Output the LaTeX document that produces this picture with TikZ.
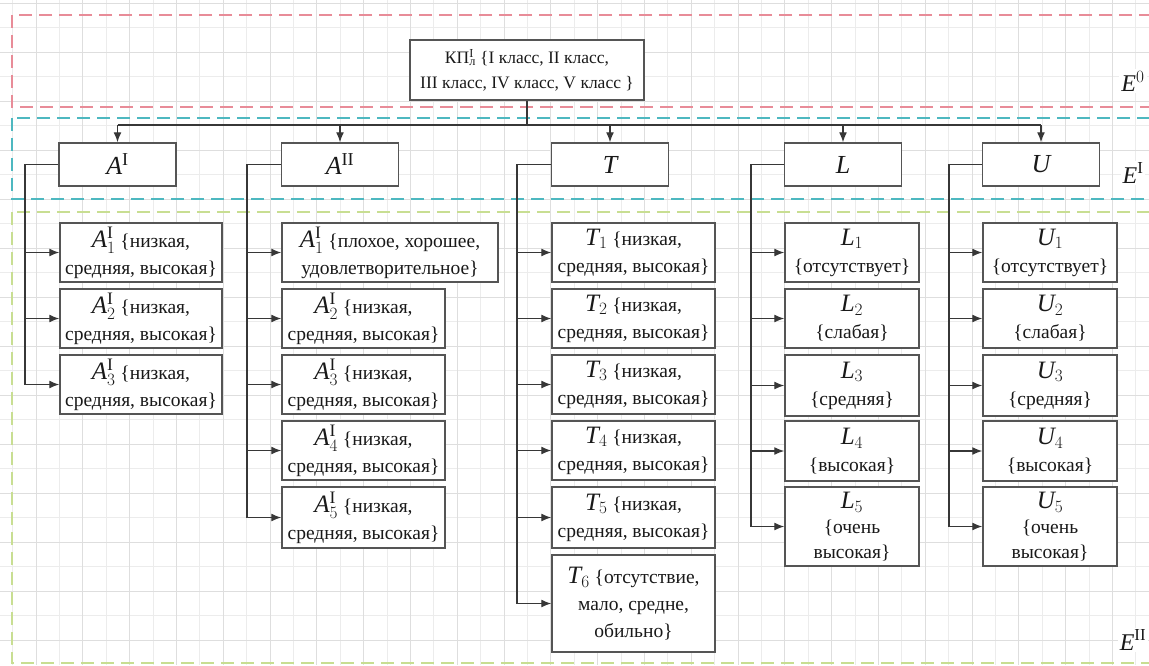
\documentclass[tikz,border=0pt]{standalone}
\usepackage{fontspec}
\setmainfont{Liberation Serif}
\usetikzlibrary{arrows.meta}
\definecolor{gridmin}{RGB}{236,236,236}
\definecolor{gridmaj}{RGB}{222,222,222}
\definecolor{pinkd}{RGB}{232,140,152}
\definecolor{cyand}{RGB}{78,184,192}
\definecolor{greend}{RGB}{200,222,146}
\definecolor{boxc}{RGB}{85,85,85}
\definecolor{linec}{RGB}{55,55,55}
\definecolor{txt}{RGB}{25,25,25}
\newcommand{\mlet}[1]{{\fontsize{26}{26}\selectfont$#1$}}
\newcommand{\sm}[1]{{\fontsize{25}{25}\selectfont$#1$}}
\begin{document}
\begin{tikzpicture}[x=1pt,y=-1pt,
  box/.style={draw=boxc,line width=1.5pt,fill=white,inner sep=0pt,align=center,text=txt},
  topbox/.style={box,minimum width=117pt,minimum height=43pt},
  leaf/.style={box,font=\fontsize{19.5}{27}\selectfont},
  conn/.style={draw=linec,line width=1.3pt},
  arr/.style={conn,-{Latex[length=10pt,width=8pt]}},
  zone/.style={line width=2pt,dash pattern=on 13pt off 7pt},
  elabel/.style={fill=white,inner sep=2pt,text=txt,font=\fontsize{24}{24}\selectfont}]
\fill[white] (0,0) rectangle (1149,665);
\useasboundingbox (0,0) rectangle (1149,665);
% grid
\foreach \j in {0,...,24} \draw[gridmin,line width=1pt] ({12.6+46.8*\j},0) -- ({12.6+46.8*\j},665);
\foreach \j in {0,...,12} \draw[gridmin,line width=1pt] (0,{27.5+49*\j}) -- (1149,{27.5+49*\j});
\foreach \j in {0,...,23} \draw[gridmaj,line width=1pt] ({36+46.8*\j},0) -- ({36+46.8*\j},665);
\foreach \j in {0,...,13} \draw[gridmaj,line width=1pt] (0,{3+49*\j}) -- (1149,{3+49*\j});
% zones
\draw[zone,pinkd] (12,15) rectangle (1170,107);
\draw[zone,cyand] (12,118) rectangle (1170,199);
\draw[zone,greend] (12,212) rectangle (1170,663);
\node[elabel] (E0) at (1133,81) {$\mathit{E}^{0}$};
\node[elabel] (E1) at (1133,173) {$\mathit{E}^{\mathrm{I}}$};
\node[elabel] (E2) at (1133,640) {$\mathit{E}^{\mathrm{II}}$};
% root
\node[box,minimum width=234pt,minimum height=60pt,font=\fontsize{17.5}{25}\selectfont] (root) at (527,70)
  {КП\rlap{\textsuperscript{I}}\textsubscript{л} \{I класс, II класс,\\ III класс, IV класс, V класс \}};
% level 1
\node[topbox] (AI) at (117.5,164.5) {\mlet{\mathit{A}^{\mathrm{I}}}};
\node[topbox] (AII) at (340,164.5) {\mlet{\mathit{A}^{\mathrm{II}}}};
\node[topbox] (T) at (610,164.5) {\mlet{\mathit{T}}};
\node[topbox] (L) at (843,164.5) {\mlet{\mathit{L}}};
\node[topbox] (U) at (1041,164.5) {\mlet{\mathit{U}}};
% level 2: A^I
\node[leaf,minimum width=162pt,minimum height=59pt] (a1) at (141,252.5) {\sm{\mathit{A}^{\mathrm{I}}_{1}} \{низкая,\\средняя, высокая\}};
\node[leaf,minimum width=162pt,minimum height=59pt] (a2) at (141,318.5) {\sm{\mathit{A}^{\mathrm{I}}_{2}} \{низкая,\\средняя, высокая\}};
\node[leaf,minimum width=162pt,minimum height=59pt] (a3) at (141,384.5) {\sm{\mathit{A}^{\mathrm{I}}_{3}} \{низкая,\\средняя, высокая\}};
% A^II
\node[leaf,minimum width=216pt,minimum height=59pt] (b1) at (390,252.5) {\sm{\mathit{A}^{\mathrm{I}}_{1}} \{плохое, хорошее,\\удовлетворительное\}};
\node[leaf,minimum width=163pt,minimum height=59pt] (b2) at (363.5,318.5) {\sm{\mathit{A}^{\mathrm{I}}_{2}} \{низкая,\\средняя, высокая\}};
\node[leaf,minimum width=163pt,minimum height=59pt] (b3) at (363.5,384.5) {\sm{\mathit{A}^{\mathrm{I}}_{3}} \{низкая,\\средняя, высокая\}};
\node[leaf,minimum width=163pt,minimum height=59pt] (b4) at (363.5,450.5) {\sm{\mathit{A}^{\mathrm{I}}_{4}} \{низкая,\\средняя, высокая\}};
\node[leaf,minimum width=163pt,minimum height=61pt] (b5) at (363.5,517.5) {\sm{\mathit{A}^{\mathrm{I}}_{5}} \{низкая,\\средняя, высокая\}};
% T
\node[leaf,minimum width=163pt,minimum height=59pt] (t1) at (633.5,252.5) {\sm{\mathit{T}_{1}}\ \{низкая,\\средняя, высокая\}};
\node[leaf,minimum width=163pt,minimum height=59pt] (t2) at (633.5,318.5) {\sm{\mathit{T}_{2}}\ \{низкая,\\средняя, высокая\}};
\node[leaf,minimum width=163pt,minimum height=59pt] (t3) at (633.5,384.5) {\sm{\mathit{T}_{3}}\ \{низкая,\\средняя, высокая\}};
\node[leaf,minimum width=163pt,minimum height=59pt] (t4) at (633.5,450.5) {\sm{\mathit{T}_{4}}\ \{низкая,\\средняя, высокая\}};
\node[leaf,minimum width=163pt,minimum height=61pt] (t5) at (633.5,517.5) {\sm{\mathit{T}_{5}}\ \{низкая,\\средняя, высокая\}};
\node[leaf,minimum width=163pt,minimum height=97pt] (t6) at (633.5,603.5) {\sm{\mathit{T}_{6}} \{отсутствие,\\мало, средне,\\обильно\}};
% L
\node[leaf,minimum width=134pt,minimum height=59pt] (l1) at (852,252.5) {\sm{\mathit{L}_{1}}\\\{отсутствует\}};
\node[leaf,minimum width=134pt,minimum height=59pt] (l2) at (852,318.5) {\sm{\mathit{L}_{2}}\\\{слабая\}};
\node[leaf,minimum width=134pt,minimum height=61pt] (l3) at (852,385.5) {\sm{\mathit{L}_{3}}\\\{средняя\}};
\node[leaf,minimum width=134pt,minimum height=60pt] (l4) at (852,451) {\sm{\mathit{L}_{4}}\\\{высокая\}};
\node[leaf,minimum width=134pt,minimum height=79pt,font=\fontsize{19.5}{25}\selectfont] (l5) at (852,526.5) {\sm{\mathit{L}_{5}}\\\{очень\\высокая\}};
% U
\node[leaf,minimum width=134pt,minimum height=59pt] (u1) at (1050,252.5) {\sm{\mathit{U}_{1}}\\\{отсутствует\}};
\node[leaf,minimum width=134pt,minimum height=59pt] (u2) at (1050,318.5) {\sm{\mathit{U}_{2}}\\\{слабая\}};
\node[leaf,minimum width=134pt,minimum height=61pt] (u3) at (1050,385.5) {\sm{\mathit{U}_{3}}\\\{средняя\}};
\node[leaf,minimum width=134pt,minimum height=60pt] (u4) at (1050,451) {\sm{\mathit{U}_{4}}\\\{высокая\}};
\node[leaf,minimum width=134pt,minimum height=79pt,font=\fontsize{19.5}{25}\selectfont] (u5) at (1050,526.5) {\sm{\mathit{U}_{5}}\\\{очень\\высокая\}};
% top bus
\coordinate (bus) at (0,125);
\draw[conn] (root.south) -- (root.south |- bus);
\draw[conn] (AI.north |- bus) -- (U.north |- bus);
\foreach \n in {AI,AII,T,L,U} \draw[arr] (\n.north |- bus) -- (\n.north);
% side buses
\coordinate (sA) at (25,0);
\coordinate (sB) at (247,0);
\coordinate (sT) at (517,0);
\coordinate (sL) at (751,0);
\coordinate (sU) at (949,0);
\draw[arr] (AI.west) -- (AI.west -| sA) |- (a3.west);
\foreach \n in {a1,a2} \draw[arr] (sA |- \n.west) -- (\n.west);
\draw[arr] (AII.west) -- (AII.west -| sB) |- (b5.west);
\foreach \n in {b1,b2,b3,b4} \draw[arr] (sB |- \n.west) -- (\n.west);
\draw[arr] (T.west) -- (T.west -| sT) |- (t6.west);
\foreach \n in {t1,t2,t3,t4,t5} \draw[arr] (sT |- \n.west) -- (\n.west);
\draw[arr] (L.west) -- (L.west -| sL) |- (l5.west);
\foreach \n in {l1,l2,l3,l4} \draw[arr] (sL |- \n.west) -- (\n.west);
\draw[arr] (U.west) -- (U.west -| sU) |- (u5.west);
\foreach \n in {u1,u2,u3,u4} \draw[arr] (sU |- \n.west) -- (\n.west);
\end{tikzpicture}
\end{document}
